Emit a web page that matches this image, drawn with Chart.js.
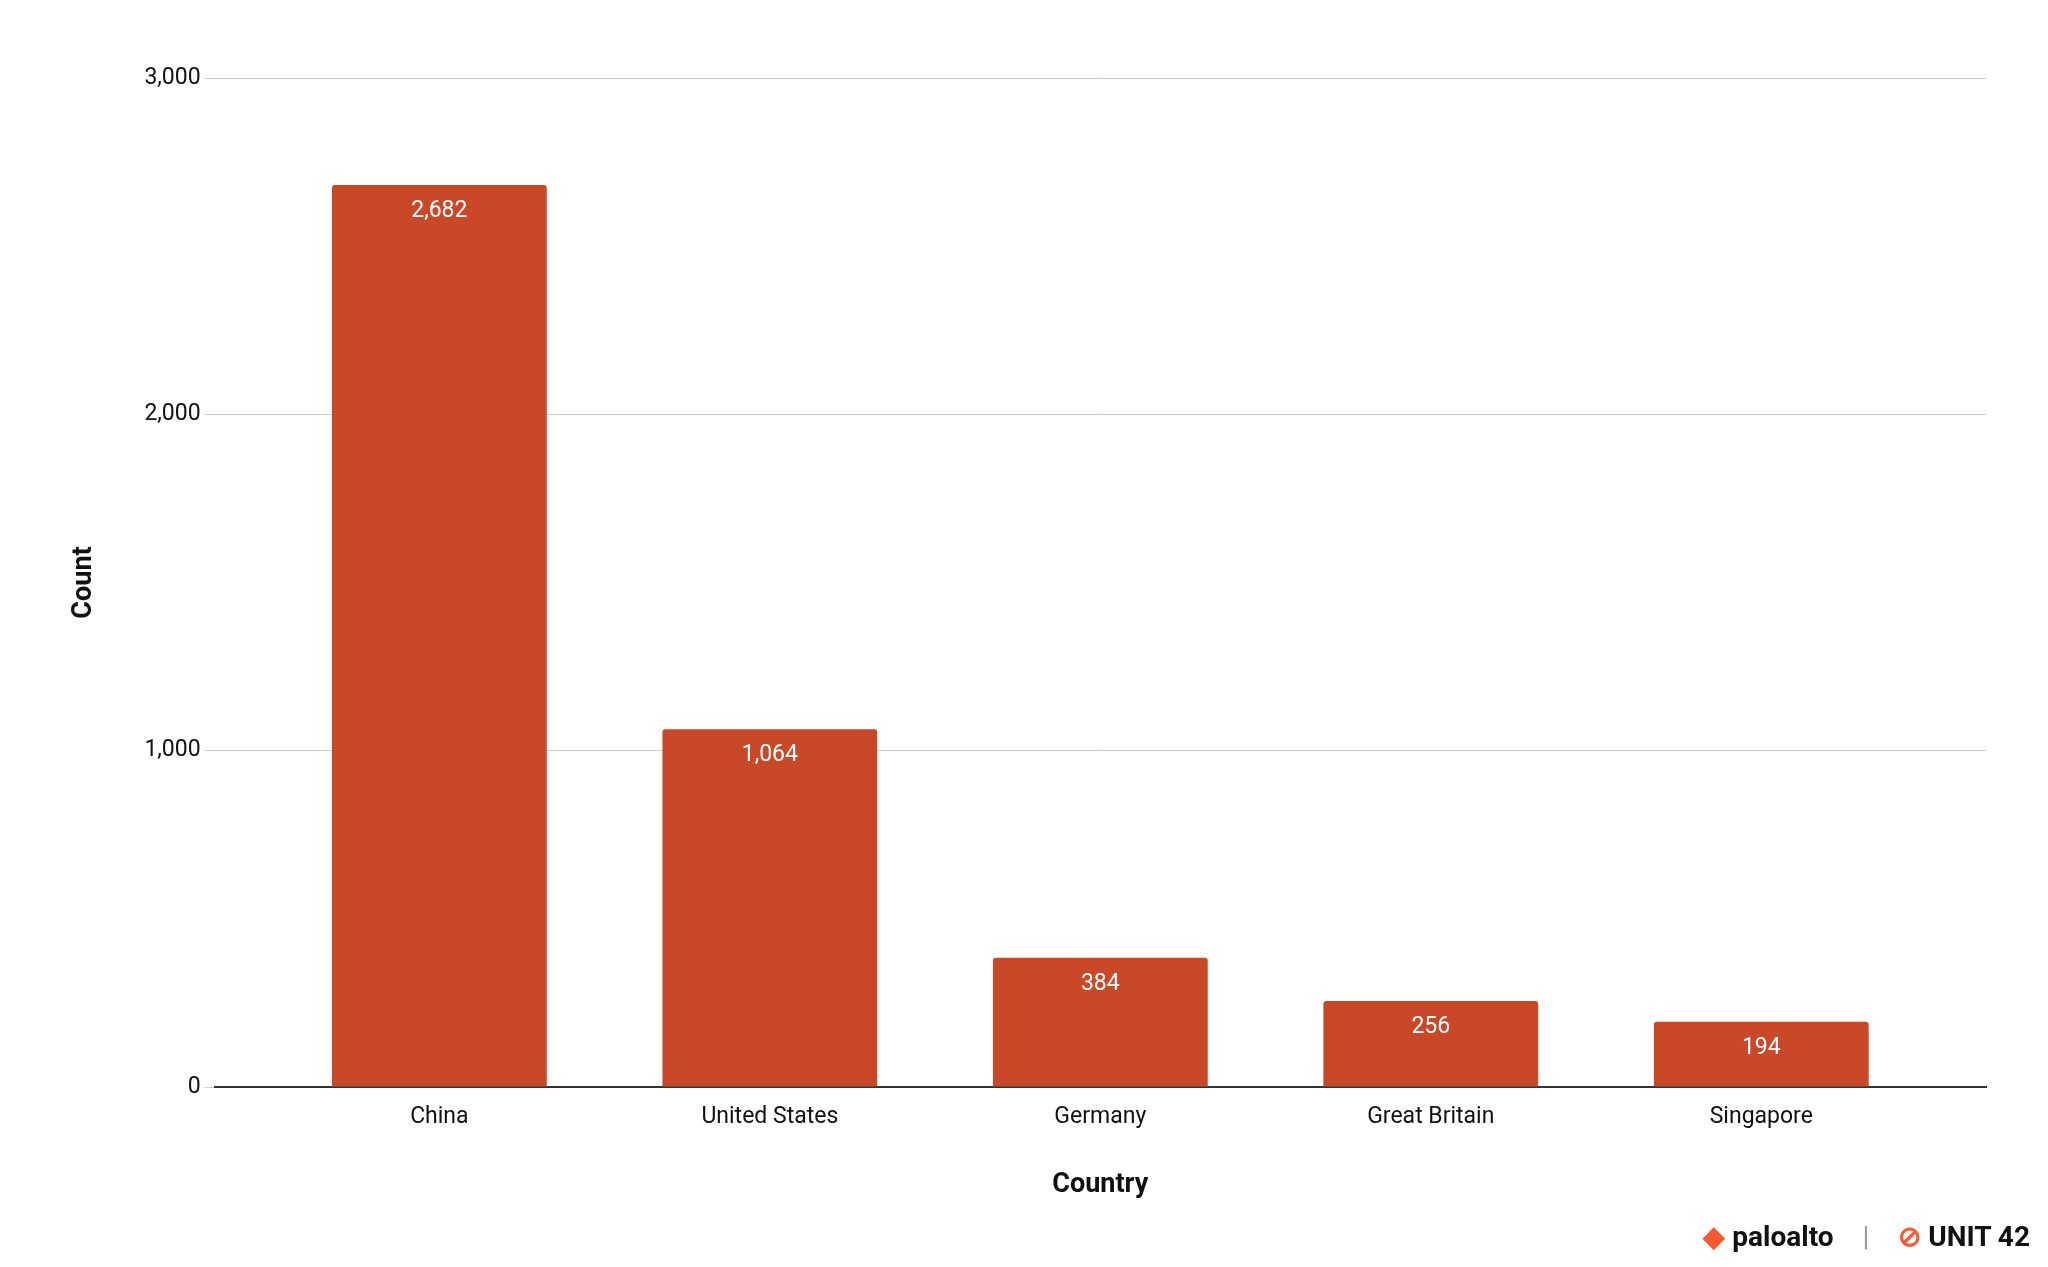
<html><head><meta charset="utf-8">
<script src="https://cdn.jsdelivr.net/npm/chart.js@4"></script>
<style>
 body{margin:0;background:#fff;}
 .wrap{position:absolute;left:0;top:0;width:2048px;height:1267px;}
 .logo{position:absolute;bottom:14px;right:18px;font-family:Roboto,sans-serif;font-weight:bold;font-size:28px;color:#111;}
</style>
</head>
<body>
<div class="wrap"><canvas id="myChart" width="2048" height="1267"></canvas></div>
<div class="logo"><span style="color:#fa582d">&#9670;</span> paloalto <span style="color:#999;font-weight:normal;margin:0 22px">|</span> <span style="color:#fa582d">&#8856;</span> UNIT 42</div>
<script>
var countries = ['China', 'United States', 'Germany', 'Great Britain', 'Singapore'];
var counts = [2682, 1064, 384, 256, 194];

// white value labels just inside the top of each bar
var barLabels = {
  id: 'barLabels',
  afterDatasetsDraw: function(chart) {
    var ctx = chart.ctx;
    ctx.save();
    ctx.fillStyle = '#fff';
    ctx.font = '23px Roboto';
    ctx.textAlign = 'center';
    ctx.textBaseline = 'top';
    chart.getDatasetMeta(0).data.forEach(function(bar, i) {
      ctx.fillText(counts[i].toLocaleString('en-US'), bar.x, bar.y + 15);
    });
    ctx.restore();
  }
};

new Chart(document.getElementById('myChart'), {
  type: 'bar',
  data: {
    datasets: [{
      data: counts.map(function(v, i) { return {x: i, y: v}; }),
      backgroundColor: '#c94828',
      borderRadius: 3,
      borderSkipped: 'bottom',
      categoryPercentage: 1,
      barPercentage: 0.65
    }]
  },
  options: {
    responsive: false,
    animation: false,
    layout: {padding: {left: 64, right: 62, top: 78, bottom: 62}},
    plugins: {legend: {display: false}, tooltip: {enabled: false}},
    scales: {
      x: {
        type: 'linear', min: -0.68, max: 4.68, offset: false,
        afterBuildTicks: function(axis) { axis.ticks = countries.map(function(c, i) { return {value: i}; }); },
        grid: {display: false},
        border: {color: '#333', width: 2},
        ticks: {color: '#111', font: {family: 'Roboto', size: 23}, padding: 8,
          callback: function(v) { return countries[v]; }},
        title: {display: true, text: 'Country', color: '#111', font: {family: 'Roboto', size: 27, weight: 'bold'}, padding: {top: 30}}
      },
      y: {
        min: 0, max: 3000,
        grid: {color: '#ccc', drawTicks: true, tickLength: 10},
        border: {display: false},
        ticks: {stepSize: 1000, color: '#111', font: {family: 'Roboto', size: 23}, padding: 4,
          callback: function(v) { return v.toLocaleString('en-US'); }},
        title: {display: true, text: 'Count', color: '#111', font: {family: 'Roboto', size: 27, weight: 'bold'}, padding: {bottom: 40}}
      }
    }
  },
  plugins: [barLabels]
});
</script>
</body></html>
